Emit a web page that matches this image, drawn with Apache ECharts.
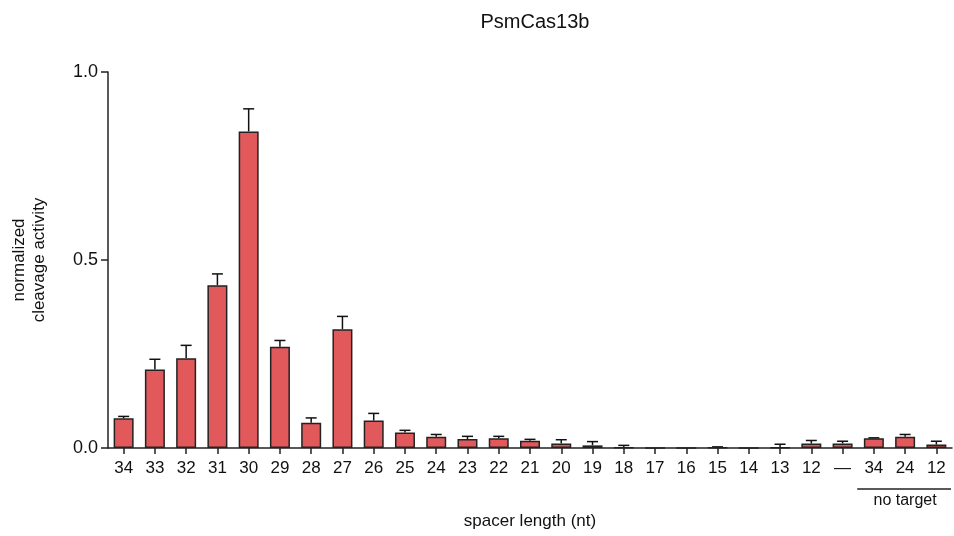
<!DOCTYPE html>
<html>
<head>
<meta charset="utf-8">
<script src="https://cdn.jsdelivr.net/npm/echarts@6/dist/echarts.min.js"></script>
<style>html,body{margin:0;padding:0;background:#fff}#c{width:954px;height:536px}</style>
</head>
<body>
<div id="c"></div>
<script>
const categories = ['34','33','32','31','30','29','28','27','26','25','24','23','22','21','20','19','18','17','16','15','14','13','12','—','34','24','12'];
const means = [0.079,0.209,0.239,0.433,0.842,0.269,0.067,0.316,0.073,0.041,0.030,0.024,0.026,0.019,0.012,0.007,0.001,0,0,0.001,0,0.001,0.012,0.012,0.026,0.030,0.009];
const errTops = [0.084,0.236,0.273,0.463,0.902,0.286,0.080,0.350,0.092,0.047,0.036,0.031,0.031,0.023,0.022,0.017,0.007,null,null,0.003,null,0.010,0.020,0.018,0.027,0.036,0.018];
const yTicks = [0, 0.5, 1.0];
const groupLabel = 'no target';
const groupStart = 24, groupEnd = 26;

const FONT = 'Liberation Sans, Arial, Helvetica, sans-serif';
const chart = echarts.init(document.getElementById('c'), null, {renderer: 'canvas'});
const errData = categories.map((c, i) => errTops[i] == null ? null : [i, means[i], errTops[i]]).filter(d => d);

chart.setOption({
  animation: false,
  title: {
    text: 'PsmCas13b', left: 530, top: 7, textAlign: 'center',
    textStyle: {fontFamily: FONT, fontSize: 20, fontWeight: 'normal', color: '#111'}
  },
  grid: {left: 108, right: 2, top: 72, bottom: 88, containLabel: false, outerBoundsMode: 'none'},
  xAxis: {
    type: 'category', data: categories,
    axisLine: {show: true, lineStyle: {color: '#222', width: 1.5}},
    axisTick: {show: true, alignWithLabel: true, length: 6, lineStyle: {color: '#222', width: 1.5}},
    axisLabel: {fontFamily: FONT, fontSize: 17, color: '#111', margin: 12, interval: 0},
    name: 'spacer length (nt)', nameLocation: 'middle', nameGap: 65,
    nameTextStyle: {fontFamily: FONT, fontSize: 17, color: '#111'}
  },
  yAxis: {
    type: 'value', min: 0, max: 1, interval: 0.5,
    splitLine: {show: false},
    axisLine: {show: true, lineStyle: {color: '#222', width: 1.5}},
    axisTick: {show: true, length: 7, lineStyle: {color: '#222', width: 1.5}},
    axisLabel: {fontFamily: FONT, fontSize: 18, color: '#111', margin: 10,
      formatter: v => yTicks.includes(v) ? v.toFixed(1) : ''},
    name: 'normalized\ncleavage activity', nameLocation: 'middle', nameRotate: 90, nameGap: 59,
    nameTextStyle: {fontFamily: FONT, fontSize: 17, color: '#111', lineHeight: 20}
  },
  series: [
    {
      type: 'bar', data: means, barWidth: 20,
      itemStyle: {color: '#E2595B', borderColor: '#222', borderWidth: 1.5}
    },
    {
      type: 'custom', data: errData, z: 1,
      renderItem: function (params, api) {
        const x = api.value(0);
        const lo = api.coord([x, api.value(1)]);
        const hi = api.coord([x, api.value(2)]);
        const hw = 5.5;
        const st = {stroke: '#111', lineWidth: 1.5};
        return {type: 'group', children: [
          {type: 'line', shape: {x1: lo[0], y1: lo[1], x2: hi[0], y2: hi[1]}, style: st},
          {type: 'line', shape: {x1: hi[0] - hw, y1: hi[1], x2: hi[0] + hw, y2: hi[1]}, style: st}
        ]};
      }
    }
  ]
});

const p0 = chart.convertToPixel({xAxisIndex: 0}, groupStart);
const p1 = chart.convertToPixel({xAxisIndex: 0}, groupEnd);
const base = chart.convertToPixel({yAxisIndex: 0}, 0);
const half = (p1 - p0) / 4;
chart.setOption({
  graphic: [
    {type: 'line', shape: {x1: p0 - half - 1, y1: base + 41, x2: p1 + half - 1, y2: base + 41},
     style: {stroke: '#222', lineWidth: 1.5}},
    {type: 'text', x: (p0 + p1) / 2, y: base + 45,
     style: {text: groupLabel, fontFamily: FONT, fontSize: 16, fill: '#111', align: 'center', verticalAlign: 'top'}}
  ]
});
</script>
</body>
</html>
